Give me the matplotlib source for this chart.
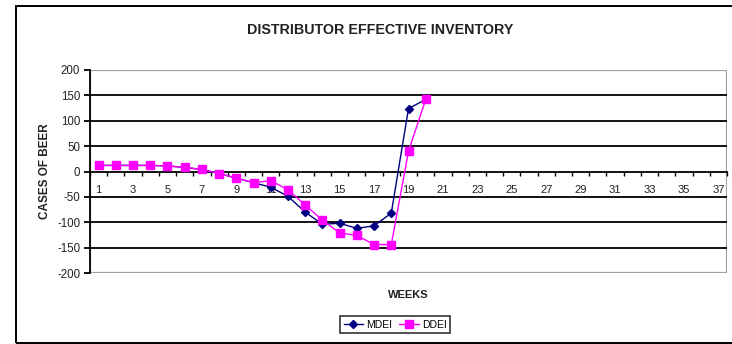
import matplotlib
matplotlib.use("Agg")
import matplotlib.pyplot as plt
from matplotlib.patches import Rectangle
from matplotlib.ticker import FixedLocator, NullFormatter

plt.rcParams['font.family'] = ['Liberation Sans', 'DejaVu Sans']

weeks = list(range(1, 21))
mdei = [12, 12, 12, 12, 11, 8, 4, -4, -13, -22, -31, -49, -80, -104, -102, -112, -107, -82, 124, 142]
ddei = [12, 12, 12, 12, 11, 8, 4, -4, -13, -22, -18, -36, -66, -96, -121, -126, -144, -144, 40, 142]
n_categories = 37
tick_labels = [str(i) for i in range(1, n_categories + 1, 2)]
y_ticks = [-200, -150, -100, -50, 0, 50, 100, 150, 200]

W, H = 732, 344
fig = plt.figure(figsize=(W / 100, H / 100), dpi=100)

# chart-area frame
frame = Rectangle((16 / W, 1 - 343 / H), 1.2, 337 / H, transform=fig.transFigure,
                  fill=False, edgecolor='black', linewidth=1.4, clip_on=False)
fig.patches.append(frame)

ax = fig.add_axes([90 / W, 1 - 273 / H, 637 / W, 203 / H])
ax.set_xlim(0.5, n_categories + 0.5)
ax.set_ylim(-200, 200)

# horizontal gridlines
for v in [-150, -100, -50, 50, 100, 150]:
    ax.axhline(v, color='black', linewidth=1.3, zorder=1)

for side in ['top', 'right']:
    ax.spines[side].set_visible(False)
ax.add_patch(Rectangle((0.5, -200), n_categories, 400, fill=False,
                       edgecolor='#a0a0a0', linewidth=1.6, zorder=0.5))
ax.spines['left'].set_linewidth(1.3)

# category axis crossing at zero
ax.spines['bottom'].set_position(('data', 0))
ax.spines['bottom'].set_linewidth(1.3)
ax.xaxis.set_ticks_position('bottom')
ax.xaxis.set_major_locator(FixedLocator(list(range(1, n_categories + 1, 2))))
ax.set_xticklabels(tick_labels)
ax.xaxis.set_minor_locator(FixedLocator([i + 0.5 for i in range(0, n_categories + 1)]))
ax.xaxis.set_minor_formatter(NullFormatter())
ax.tick_params(axis='x', which='major', length=0, pad=9.5, labelsize=8, labelcolor='#222222')
ax.tick_params(axis='x', which='minor', length=3, width=1, direction='out', color='black')

ax.set_yticks(y_ticks)
ax.set_yticklabels([str(v) for v in y_ticks])
ax.tick_params(axis='y', length=4, width=1.3, direction='out', labelsize=8.3,
               labelcolor='#222222', pad=3)

ax.plot(weeks, mdei, color='#000080', marker='D', markersize=4, linewidth=1,
        label='MDEI', zorder=3)
ax.plot(weeks, ddei, color='#ff00ff', marker='s', markersize=5.5, linewidth=1,
        label='DDEI', zorder=4)

fig.text(380 / W, 1 - 30 / H, 'DISTRIBUTOR EFFECTIVE INVENTORY', ha='center', va='center',
         fontsize=10.3, fontweight='bold', color='#222222')
fig.text(408 / W, 1 - 295 / H, 'WEEKS', ha='center', va='center',
         fontsize=8, fontweight='bold', color='#222222')
fig.text(45 / W, 1 - 171 / H, 'CASES OF BEER', ha='center', va='center', rotation=90,
         fontsize=8.5, fontweight='bold', color='#222222')

leg = fig.legend(loc='center', bbox_to_anchor=(395 / W, 1 - 324.5 / H), ncol=2,
                 fontsize=7.5, frameon=True, fancybox=False, edgecolor='black',
                 handlelength=1.9, handletextpad=0.3, columnspacing=0.6,
                 borderpad=0.3, borderaxespad=0, numpoints=1)
leg.get_frame().set_linewidth(1.2)

fig.savefig('out.png', dpi=100)
